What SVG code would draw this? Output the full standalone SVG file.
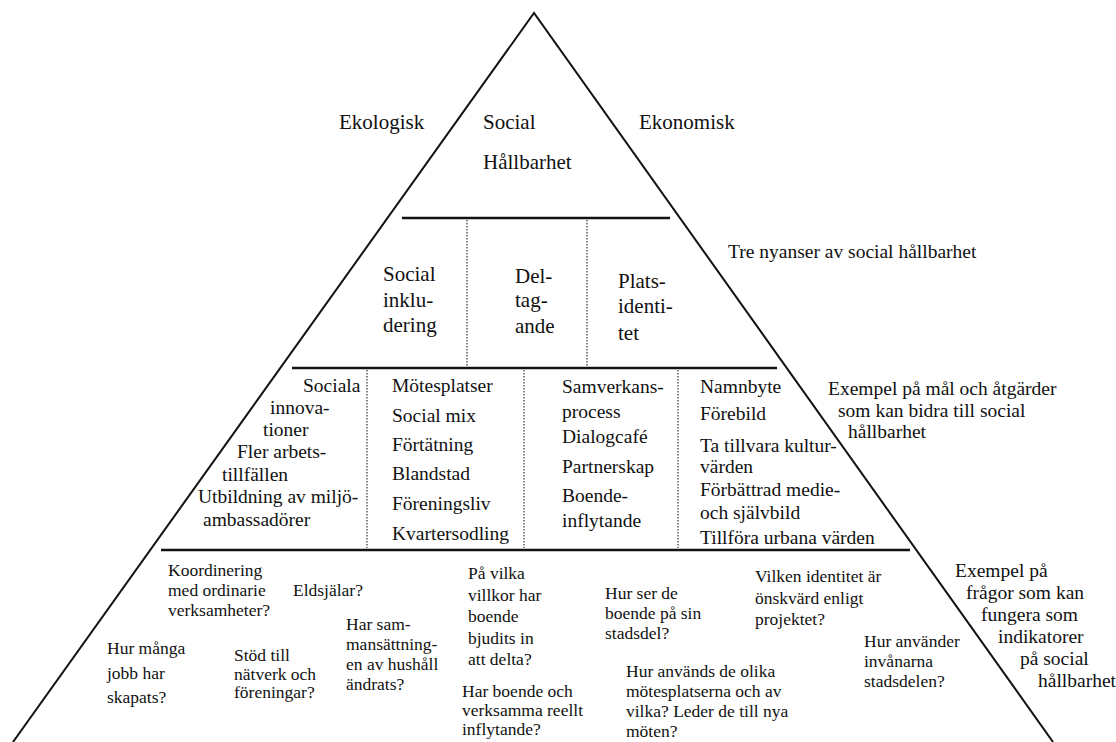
<svg xmlns="http://www.w3.org/2000/svg" width="1116" height="742" viewBox="0 0 1116 742">
<style>
text{font-family:"Liberation Serif","Times New Roman",serif;fill:#111}
.t21{font-size:21px}
.t19{font-size:19.5px}
.t17{font-size:17.5px}
.edge{fill:none;stroke:#111;stroke-width:2}
.solid{stroke:#111;stroke-width:2.5}
.dot{stroke:#333;stroke-width:1.2;stroke-dasharray:1.5 1.5}
</style>
<rect width="1116" height="742" fill="#fff"/>
<g id="connectors">
<path class="edge" d="M13,742 L534,13 L1053,742"/>
<line class="solid" x1="402" y1="218" x2="670" y2="218"/>
<line class="solid" x1="292" y1="368" x2="777" y2="368"/>
<line class="solid" x1="161" y1="550" x2="910" y2="550"/>
<line class="dot" x1="467" y1="220" x2="467" y2="366"/>
<line class="dot" x1="587" y1="220" x2="587" y2="366"/>
<line class="dot" x1="367" y1="370" x2="367" y2="548"/>
<line class="dot" x1="524" y1="370" x2="524" y2="548"/>
<line class="dot" x1="678" y1="370" x2="678" y2="548"/>
</g>
<g id="top-labels" class="t21">
<text x="339" y="129">Ekologisk</text>
<text x="483" y="129">Social</text>
<text x="483" y="169">Hållbarhet</text>
<text x="639" y="129">Ekonomisk</text>
</g>
<g id="nyanser" class="t21">
<text x="383" y="281">Social</text>
<text x="383" y="307">inklu-</text>
<text x="383" y="332">dering</text>
<text x="515" y="283">Del-</text>
<text x="515" y="307">tag-</text>
<text x="515" y="333">ande</text>
<text x="618" y="288">Plats-</text>
<text x="618" y="313">identi-</text>
<text x="618" y="340">tet</text>
</g>
<g id="side-labels" class="t19">
<text x="728" y="258">Tre nyanser av social hållbarhet</text>
<text x="828" y="395">Exempel på mål och åtgärder</text>
<text x="838" y="417">som kan bidra till social</text>
<text x="848" y="438">hållbarhet</text>
<text x="955" y="577">Exempel på</text>
<text x="966" y="599">frågor som kan</text>
<text x="981" y="621">fungera som</text>
<text x="998" y="643">indikatorer</text>
<text x="1020" y="665">på social</text>
<text x="1038" y="687">hållbarhet</text>
</g>
<g id="col-inkludering" class="t19">
<text x="303" y="392">Sociala</text>
<text x="270" y="414">innova-</text>
<text x="263" y="436">tioner</text>
<text x="237" y="458">Fler arbets-</text>
<text x="222" y="481">tillfällen</text>
<text x="198" y="503">Utbildning av miljö-</text>
<text x="203" y="526">ambassadörer</text>
</g>
<g id="col-mix" class="t19">
<text x="392" y="392">Mötesplatser</text>
<text x="392" y="422">Social mix</text>
<text x="392" y="451">Förtätning</text>
<text x="392" y="480">Blandstad</text>
<text x="392" y="510">Föreningsliv</text>
<text x="392" y="540">Kvartersodling</text>
</g>
<g id="col-deltagande" class="t19">
<text x="562" y="393">Samverkans-</text>
<text x="562" y="418">process</text>
<text x="562" y="443">Dialogcafé</text>
<text x="562" y="473">Partnerskap</text>
<text x="562" y="502">Boende-</text>
<text x="562" y="527">inflytande</text>
</g>
<g id="col-platsidentitet" class="t19">
<text x="700" y="393">Namnbyte</text>
<text x="700" y="420">Förebild</text>
<text x="700" y="452">Ta tillvara kultur-</text>
<text x="700" y="473">värden</text>
<text x="700" y="496">Förbättrad medie-</text>
<text x="700" y="519">och självbild</text>
<text x="700" y="544">Tillföra urbana värden</text>
</g>
<g id="questions" class="t17">
<text x="168" y="576">Koordinering</text>
<text x="168" y="596">med ordinarie</text>
<text x="168" y="616">verksamheter?</text>
<text x="293" y="596">Eldsjälar?</text>
<text x="468" y="579">På vilka</text>
<text x="468" y="601">villkor har</text>
<text x="468" y="622">boende</text>
<text x="468" y="644">bjudits in</text>
<text x="468" y="665">att delta?</text>
<text x="346" y="630">Har sam-</text>
<text x="346" y="650">mansättning-</text>
<text x="346" y="670">en av hushåll</text>
<text x="346" y="690">ändrats?</text>
<text x="107" y="654">Hur många</text>
<text x="107" y="679">jobb har</text>
<text x="107" y="703">skapats?</text>
<text x="234" y="661">Stöd till</text>
<text x="234" y="680">nätverk och</text>
<text x="234" y="698">föreningar?</text>
<text x="462" y="697">Har boende och</text>
<text x="462" y="716">verksamma reellt</text>
<text x="462" y="735">inflytande?</text>
<text x="605" y="599">Hur ser de</text>
<text x="605" y="619">boende på sin</text>
<text x="605" y="639">stadsdel?</text>
<text x="755" y="582">Vilken identitet är</text>
<text x="755" y="604">önskvärd enligt</text>
<text x="755" y="625">projektet?</text>
<text x="864" y="647">Hur använder</text>
<text x="864" y="667">invånarna</text>
<text x="864" y="687">stadsdelen?</text>
<text x="626" y="677">Hur används de olika</text>
<text x="626" y="697">mötesplatserna och av</text>
<text x="626" y="717">vilka? Leder de till nya</text>
<text x="626" y="737">möten?</text>
</g>
</svg>
